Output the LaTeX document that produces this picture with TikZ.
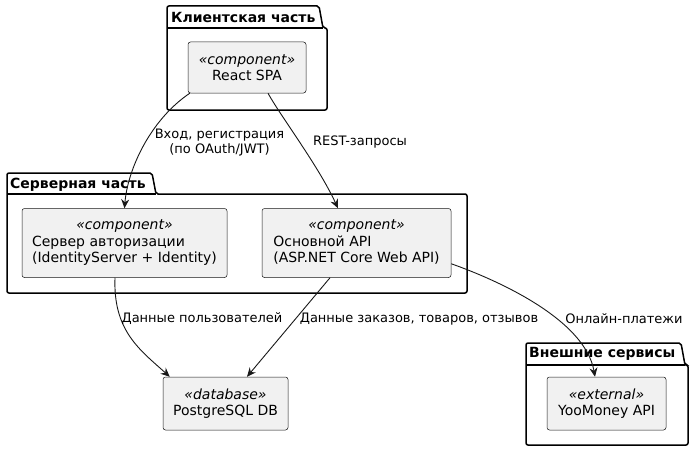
\documentclass[tikz,border=0pt]{standalone}
\usepackage{fontspec}
\setmainfont{DejaVu Sans}
\usetikzlibrary{arrows.meta}
\definecolor{boxfill}{HTML}{F1F1F1}
\definecolor{ink}{HTML}{181818}
\tikzset{
  comp/.style={draw=ink, line width=0.5pt, fill=boxfill, rounded corners=2.5pt,
    align=center, inner sep=0pt, font=\fontsize{14}{16.3}\selectfont},
  pkg/.style={draw=black, line width=1.5pt, fill=white, rounded corners=2pt},
  pkgtitle/.style={font=\fontsize{14}{16}\selectfont\bfseries, inner sep=0pt, anchor=west},
  conn/.style={draw=ink, line width=0.9pt, -{Stealth[length=9pt,width=8pt,inset=3pt]}},
  lbl/.style={font=\fontsize{13}{15}\selectfont, align=center, inner sep=0pt, text=black},
}
\begin{document}
\begin{tikzpicture}[x=1pt,y=-1pt]
\useasboundingbox (0,0) rectangle (693,452);
% packages
\draw[pkg] (167,110) -- (167,6) -- (319,6) -- (323,28) -- (327,28) -- (327,110) -- cycle;
\draw[black, line width=1.5pt] (167,28) -- (323,28);
\node[pkgtitle] (t1) at (171,17) {Клиентская часть};
\draw[pkg] (7,293) -- (7,173) -- (152,173) -- (156,194) -- (467,194) -- (467,293) -- cycle;
\draw[black, line width=1.5pt] (7,194) -- (156,194);
\node[pkgtitle] (t2) at (10,184.5) {Серверная часть};
\draw[pkg] (526,445) -- (526,343) -- (681,343) -- (685,365) -- (688,365) -- (688,445) -- cycle;
\draw[black, line width=1.5pt] (526,365) -- (685,365);
\node[pkgtitle] (t3) at (529,354) {Внешние сервисы};
% components
\node[comp, minimum width=118pt, minimum height=51pt] (react) at (247,67.5)
  {{\itshape «component»}\\React SPA};
\node[comp, minimum width=205pt, minimum height=69pt] (auth) at (124.5,243)
  {\begin{tabular}{@{}l@{}}\multicolumn{1}{@{}c@{}}{\itshape «component»}\\Сервер авторизации\\(IdentityServer + Identity)\end{tabular}};
\node[comp, minimum width=189pt, minimum height=69pt] (api) at (356.5,243)
  {\begin{tabular}{@{}l@{}}\multicolumn{1}{@{}c@{}}{\itshape «component»}\\Основной API\\(ASP.NET Core Web API)\end{tabular}};
\node[comp, minimum width=125pt, minimum height=53pt] (db) at (225.5,403.5)
  {{\itshape «database»}\\PostgreSQL DB};
\node[comp, minimum width=119pt, minimum height=53pt] (yoo) at (606.5,403.5)
  {{\itshape «external»}\\YooMoney API};
% connectors
\draw[conn] ([xshift=2pt]react.south west) .. controls +(-40,27) and +(3,-38) .. (auth.north);
\draw[conn] ([xshift=21pt]react.south) .. controls +(14,25) and +(-20,-43) .. ([xshift=-18.5pt]api.north);
\draw[conn] ([xshift=-9.5pt]auth.south) .. controls +(-2,53) and +(-30,-27) .. ([xshift=7pt]db.north west);
\draw[conn] ([xshift=-26.5pt]api.south) -- ([xshift=21.5pt]db.north);
\draw[conn] ([yshift=14pt]api.south east) .. controls +(48,17) and +(-10,-57) .. ([xshift=-11.5pt]yoo.north);
% labels
\node[lbl] (l1) at (219.5,142.5) {Вход, регистрация\\(по OAuth/JWT)};
\node[lbl] (l2) at (360,142) {REST-запросы};
\node[lbl] (l3) at (202,319) {Данные пользователей};
\node[lbl] (l4) at (419,319) {Данные заказов, товаров, отзывов};
\node[lbl] (l5) at (624,319) {Онлайн-платежи};
\end{tikzpicture}
\end{document}
